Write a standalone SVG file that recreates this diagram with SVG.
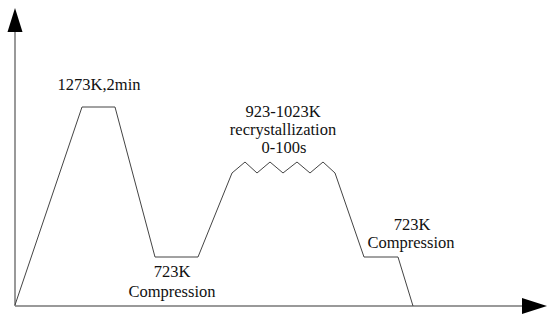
<svg xmlns="http://www.w3.org/2000/svg" width="550" height="320" viewBox="0 0 550 320">
<style>
.ax{stroke:#777;stroke-width:1.5;fill:none}
.cv{stroke:#444;stroke-width:1;fill:none;stroke-linejoin:miter}
.hd{fill:#000;stroke:none}
.t{font-family:'Liberation Serif','DejaVu Serif',serif;font-size:16.5px;fill:#111;text-anchor:middle}
</style>
<rect width="550" height="320" fill="#fff"/>
<g id="connectors">
<g id="axes">
<line class="ax" x1="15" y1="306" x2="15" y2="30"/>
<polygon class="hd" points="15,8 7.5,32 22.5,32"/>
<line class="ax" x1="15" y1="306" x2="524" y2="306"/>
<polygon class="hd" points="547,306 522,298 522,314"/>
</g>
<polyline id="curve" class="cv" points="15,305 82,107 115,107 155,257 198,257 232,173 245,162 257,173 270,162 283,173 297,162 310,173 323,162 335,173 364,257 398,257 413,306"/>
</g>
<g id="label-austenitize"><text class="t" x="99" y="90">1273K,2min</text></g>
<g id="label-recryst">
<text class="t" x="283" y="117">923-1023K</text>
<text class="t" x="283" y="135">recrystallization</text>
<text class="t" x="284" y="153">0-100s</text>
</g>
<g id="label-compress1">
<text class="t" x="172" y="277">723K</text>
<text class="t" x="172" y="297">Compression</text>
</g>
<g id="label-compress2">
<text class="t" x="412" y="230">723K</text>
<text class="t" x="411" y="248">Compression</text>
</g>
</svg>
